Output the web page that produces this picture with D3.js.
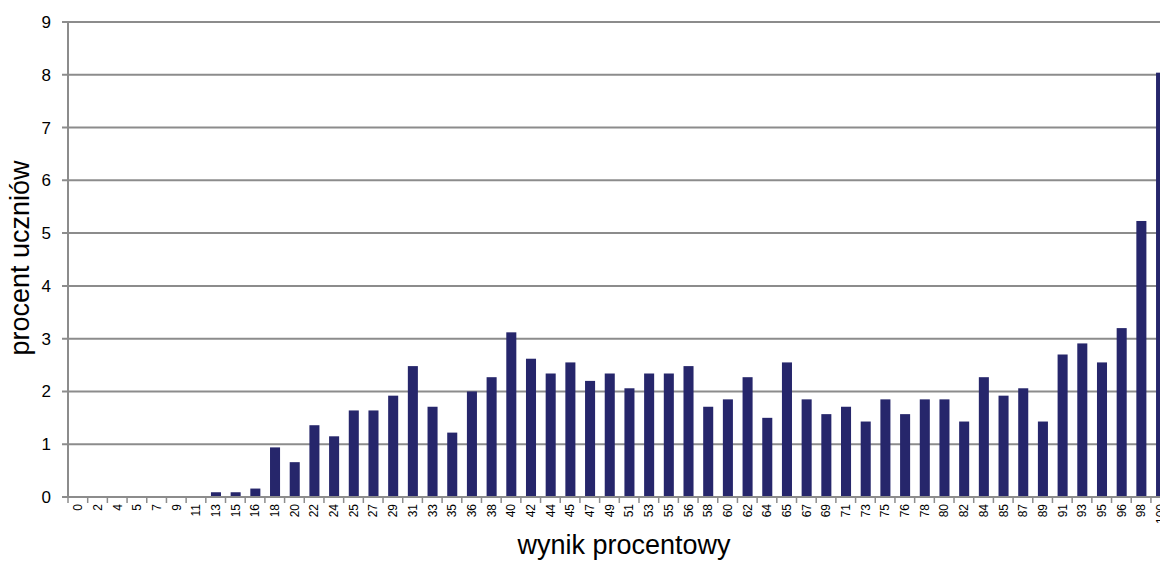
<!DOCTYPE html>
<html><head><meta charset="utf-8">
<script src="https://cdn.jsdelivr.net/npm/d3@7"></script>
<style>body{margin:0;background:#fff;font-family:"Liberation Sans",Arial,sans-serif;}</style>
</head><body><svg id="c" width="1160" height="563"></svg>
<script>
const categories = ["0","2","4","5","7","9","11","13","15","16","18","20","22","24","25","27","29","31","33","35","36","38","40","42","44","45","47","49","51","53","55","56","58","60","62","64","65","67","69","71","73","75","76","78","80","82","84","85","87","89","91","93","95","96","98","100"];
const values = [0,0,0,0,0,0,0,0.09,0.09,0.16,0.94,0.66,1.36,1.15,1.64,1.64,1.92,2.48,1.71,1.22,2.0,2.27,3.12,2.62,2.34,2.55,2.2,2.34,2.06,2.34,2.34,2.48,1.71,1.85,2.27,1.5,2.55,1.85,1.57,1.71,1.43,1.85,1.57,1.85,1.85,1.43,2.27,1.92,2.06,1.43,2.70,2.91,2.55,3.2,5.23,8.04];
const yTicks = [0,1,2,3,4,5,6,7,8,9];

const svg = d3.select("#c");
const mLeft = 68, mTop = 22, mBottom = 497, mRight = 68 + 56*19.7;
const x = d3.scaleBand().domain(categories).range([mLeft, mRight]).paddingInner(0.49).paddingOuter(0.26);
const y = d3.scaleLinear().domain([0,9]).range([mBottom, mTop]);

svg.append("g").selectAll("line").data(yTicks).join("line")
  .attr("x1", mLeft - 6).attr("x2", 1160).attr("y1", d=>y(d)).attr("y2", d=>y(d))
  .attr("stroke", "#8c8c8c").attr("stroke-width", 2);

svg.append("g").selectAll("rect").data(values).join("rect")
  .attr("x", (d,i)=>x(categories[i])).attr("width", x.bandwidth())
  .attr("y", d=>y(d)).attr("height", d=>mBottom - y(d))
  .attr("fill", "#26266b");

svg.append("line").attr("x1", mLeft).attr("x2", mLeft).attr("y1", mTop).attr("y2", mBottom)
  .attr("stroke", "#8c8c8c").attr("stroke-width", 2);
svg.append("line").attr("x1", mLeft - 6).attr("x2", 1160).attr("y1", mBottom).attr("y2", mBottom)
  .attr("stroke", "#8c8c8c").attr("stroke-width", 2);

const step = x.step();
svg.append("g").selectAll("line").data(d3.range(categories.length+1)).join("line")
  .attr("x1", i=>mLeft + i*step).attr("x2", i=>mLeft + i*step)
  .attr("y1", mBottom).attr("y2", mBottom + 6)
  .attr("stroke", "#8c8c8c").attr("stroke-width", 1.5);

svg.append("g").selectAll("text").data(yTicks).join("text")
  .attr("x", 51).attr("y", d=>y(d)).attr("dy", "0.35em").attr("text-anchor", "end")
  .attr("font-size", 17).attr("fill", "#000").text(d=>d);

svg.append("g").selectAll("text").data(categories).join("text")
  .attr("transform", d=>`translate(${x(d)+x.bandwidth()/2+4},${mBottom+7}) rotate(-90)`)
  .attr("text-anchor", "end").attr("font-size", 12).attr("fill", "#000").text(d=>d);

svg.append("text").attr("transform", "translate(29,258) rotate(-90)")
  .attr("text-anchor", "middle").attr("font-size", 27).text("procent uczniów");
svg.append("text").attr("x", 624).attr("y", 554)
  .attr("text-anchor", "middle").attr("font-size", 27).text("wynik procentowy");
</script></body></html>
